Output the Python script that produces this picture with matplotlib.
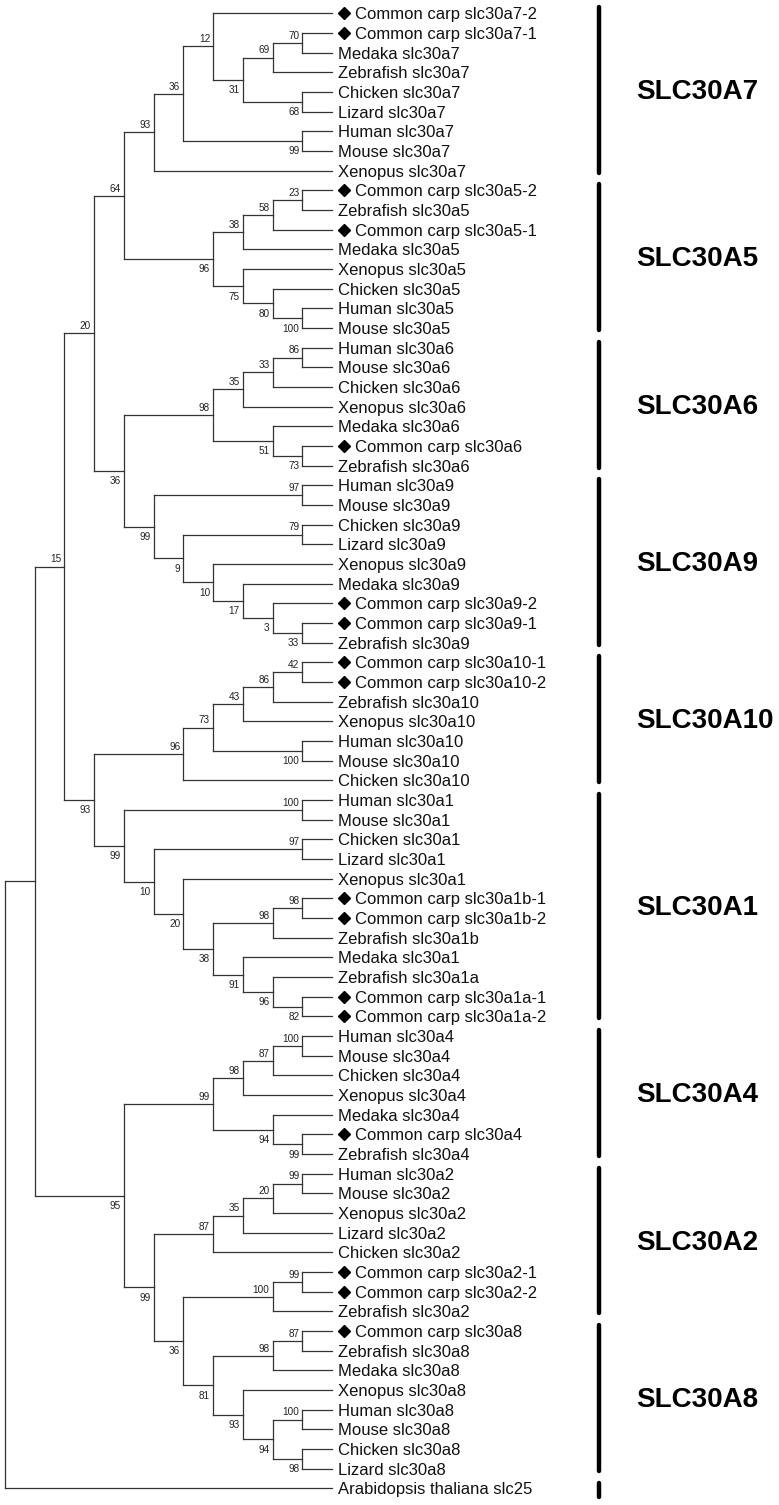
import matplotlib
matplotlib.use("Agg")
import matplotlib.pyplot as plt

plt.rcParams['font.family'] = ['Liberation Sans', 'DejaVu Sans']

# clades as newick, bootstrap values after the closing brackets
a7 = ("(((Common carp slc30a7-2,(((Common carp slc30a7-1,Medaka slc30a7)70,Zebrafish slc30a7)69,"
      "(Chicken slc30a7,Lizard slc30a7)68)31)12,(Human slc30a7,Mouse slc30a7)99)36,Xenopus slc30a7)93")
a5 = ("((((Common carp slc30a5-2,Zebrafish slc30a5)23,Common carp slc30a5-1)58,Medaka slc30a5)38,"
      "(Xenopus slc30a5,(Chicken slc30a5,(Human slc30a5,Mouse slc30a5)100)80)75)96")
a6 = ("((((Human slc30a6,Mouse slc30a6)86,Chicken slc30a6)33,Xenopus slc30a6)35,"
      "(Medaka slc30a6,(Common carp slc30a6,Zebrafish slc30a6)73)51)98")
a9 = ("((Human slc30a9,Mouse slc30a9)97,((Chicken slc30a9,Lizard slc30a9)79,(Xenopus slc30a9,"
      "(Medaka slc30a9,(Common carp slc30a9-2,(Common carp slc30a9-1,Zebrafish slc30a9)33)3)17)10)9)99")
a10 = ("(((((Common carp slc30a10-1,Common carp slc30a10-2)42,Zebrafish slc30a10)86,Xenopus slc30a10)43,"
       "(Human slc30a10,Mouse slc30a10)100)73,Chicken slc30a10)96")
a1 = ("((Human slc30a1,Mouse slc30a1)100,((Chicken slc30a1,Lizard slc30a1)97,(Xenopus slc30a1,"
      "(((Common carp slc30a1b-1,Common carp slc30a1b-2)98,Zebrafish slc30a1b)98,(Medaka slc30a1,"
      "(Zebrafish slc30a1a,(Common carp slc30a1a-1,Common carp slc30a1a-2)82)96)91)38)20)10)99")
a4 = ("((((Human slc30a4,Mouse slc30a4)100,Chicken slc30a4)87,Xenopus slc30a4)98,"
      "(Medaka slc30a4,(Common carp slc30a4,Zebrafish slc30a4)99)94)99")
a2 = "((((Human slc30a2,Mouse slc30a2)99,Xenopus slc30a2)20,Lizard slc30a2)35,Chicken slc30a2)87"
a2_carp = "((Common carp slc30a2-1,Common carp slc30a2-2)99,Zebrafish slc30a2)100"
a8 = ("(((Common carp slc30a8,Zebrafish slc30a8)87,Medaka slc30a8)98,(Xenopus slc30a8,"
      "((Human slc30a8,Mouse slc30a8)100,(Chicken slc30a8,Lizard slc30a8)98)94)93)81")
outgroup = "Arabidopsis thaliana slc25"

tree = (f"((((({a7},{a5})64,({a6},{a9})36)20,({a10},{a1})93)15,"
        f"({a4},({a2},({a2_carp},{a8})36)99)95),{outgroup})")

group_names = ['SLC30A7', 'SLC30A5', 'SLC30A6', 'SLC30A9', 'SLC30A10',
               'SLC30A1', 'SLC30A4', 'SLC30A2', 'SLC30A8', '']
group_sizes = [9, 8, 7, 9, 7, 12, 7, 8, 8, 1]


def parse(s):
    pos = 0

    def node():
        nonlocal pos
        if s[pos] == '(':
            pos += 1
            kids = [node()]
            while s[pos] == ',':
                pos += 1
                kids.append(node())
            pos += 1
            start = pos
            while pos < len(s) and s[pos] not in ',)':
                pos += 1
            return {'kids': kids, 'support': s[start:pos].strip()}
        start = pos
        while pos < len(s) and s[pos] not in ',)':
            pos += 1
        return {'name': s[start:pos].strip()}

    return node()


root = parse(tree)
leaves = []


def layout(n):
    if 'name' in n:
        n['h'] = 0
        n['y'] = len(leaves)
        leaves.append(n)
        return
    for k in n['kids']:
        layout(k)
    n['h'] = 1 + max(k['h'] for k in n['kids'])
    n['y'] = (n['kids'][0]['y'] + n['kids'][-1]['y']) / 2


layout(root)
depth = root['h']

fig = plt.figure(figsize=(7.79, 15.05), dpi=100)
ax = fig.add_axes([0, 0, 1, 1])
ax.set_xlim(-0.168, 26.03)
ax.set_ylim(75.84, -0.676)
ax.axis('off')

lc = '#333333'


def draw(n):
    if 'name' in n:
        return
    x = depth - n['h']
    ax.plot([x, x], [n['kids'][0]['y'], n['kids'][-1]['y']], color=lc, lw=0.9)
    for i, k in enumerate(n['kids']):
        kx = depth - k['h']
        ax.plot([x, kx], [k['y'], k['y']], color=lc, lw=0.9)
        if 'kids' in k and k['support']:
            dy = 3.0 if i == 0 else -9.6
            ax.annotate(k['support'], (kx, k['y']), xytext=(-2.2, dy),
                        textcoords='offset points', ha='right', va='baseline',
                        fontsize=7.2, color='#222222')
        draw(k)


draw(root)

shift = matplotlib.transforms.ScaledTranslation(8.6 / 72, 0, fig.dpi_scale_trans)
for lf in leaves:
    name = lf['name']
    if name.startswith('Common carp'):
        ax.plot([depth], [lf['y']], marker='D', ms=6.6, color='black',
                transform=ax.transData + shift)
        ax.annotate(name, (depth, lf['y']), xytext=(16.6, -4.3), textcoords='offset points',
                    ha='left', va='baseline', fontsize=12, color='#111111')
    else:
        ax.annotate(name, (depth, lf['y']), xytext=(4.3, -4.3), textcoords='offset points',
                    ha='left', va='baseline', fontsize=12, color='#111111')

bar_x = 19.98
label_x = 21.22
start = 0
for name, size in zip(group_names, group_sizes):
    first, last = start, start + size - 1
    top = first - 0.3
    bottom = last + 0.1 + (0.35 if size == 1 else 0)
    ax.plot([bar_x, bar_x], [top, bottom], color='black', lw=3.2, solid_capstyle='round')
    if name:
        ax.text(label_x, (first + last) / 2, name, fontsize=20, fontweight='bold',
                ha='left', va='center', color='black')
    start += size

fig.savefig('out.png', dpi=100)
